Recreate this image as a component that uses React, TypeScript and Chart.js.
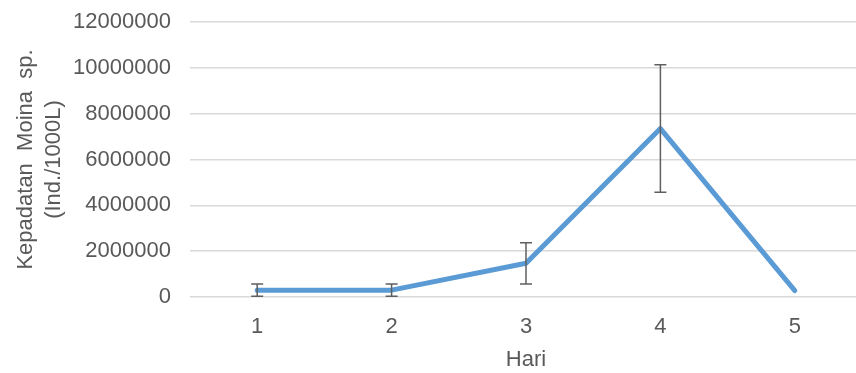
import React, { useEffect, useRef } from "react";
import { Chart, registerables } from "chart.js";

Chart.register(...registerables);

const categories = ["1", "2", "3", "4", "5"];
const densityValues = [300000, 300000, 1470000, 7350000, 280000];
const densityErrors = [270000, 270000, 900000, 2780000, 0];
const yTicks = [0, 2000000, 4000000, 6000000, 8000000, 10000000, 12000000];

const FONT = "'Liberation Sans', Arial, sans-serif";
const TEXT = "#595959";

const errorBarPlugin = {
  id: "errorBars",
  afterDatasetsDraw(chart: any) {
    const { ctx } = chart;
    const x = chart.scales.x;
    const y = chart.scales.y;
    ctx.save();
    ctx.strokeStyle = "#5f5f5f";
    ctx.lineWidth = 1.5;
    densityValues.forEach((v, i) => {
      const e = densityErrors[i];
      if (!e) return;
      const px = x.getPixelForValue(i);
      const top = y.getPixelForValue(v + e);
      const bot = y.getPixelForValue(v - e);
      const cap = 6;
      ctx.beginPath();
      ctx.moveTo(px, top);
      ctx.lineTo(px, bot);
      ctx.moveTo(px - cap, top);
      ctx.lineTo(px + cap, top);
      ctx.moveTo(px - cap, bot);
      ctx.lineTo(px + cap, bot);
      ctx.stroke();
    });
    ctx.restore();
  },
};

export default function App() {
  const ref = useRef<HTMLCanvasElement | null>(null);
  useEffect(() => {
    document.body.style.margin = "0";
    const chart = new Chart(ref.current as HTMLCanvasElement, {
      type: "line",
      data: {
        labels: categories,
        datasets: [
          {
            data: densityValues,
            borderColor: "#5b9bd5",
            borderWidth: 5,
            pointRadius: 0,
            tension: 0,
            borderCapStyle: "round",
            borderJoinStyle: "round",
          },
        ],
      },
      options: {
        animation: false,
        responsive: false,
        layout: { autoPadding: false, padding: { top: 22, right: 0, left: 0, bottom: 0 } },
        plugins: { legend: { display: false }, tooltip: { enabled: false } },
        scales: {
          x: {
            offset: true,
            grid: { display: false },
            border: { display: false },
            ticks: { color: TEXT, font: { family: FONT, size: 22 }, padding: 9 },
            title: {
              display: true,
              text: "Hari",
              color: TEXT,
              font: { family: FONT, size: 22 },
              padding: { top: 2, bottom: 0 },
            },
            afterFit: (s: any) => {
              s.height = 76;
              s.paddingLeft = 0;
              s.paddingRight = 0;
            },
          },
          y: {
            min: 0,
            max: 12000000,
            afterBuildTicks: (s: any) => {
              s.ticks = yTicks.map((v) => ({ value: v }));
            },
            grid: { color: "#d9d9d9", lineWidth: 1.5, drawTicks: false },
            border: { display: false },
            ticks: {
              color: TEXT,
              font: { family: FONT, size: 22 },
              padding: 19,
              callback: (v: any) => String(v),
            },
            title: {
              display: true,
              text: ["Kepadatan  Moina  sp.", "(Ind./1000L)"],
              color: TEXT,
              font: { family: FONT, size: 22, lineHeight: 1.27 },
              padding: { top: 12, bottom: 0 },
            },
            afterFit: (s: any) => {
              s.width = 190;
              s.paddingTop = 0;
              s.paddingBottom = 0;
            },
          },
        },
      },
      plugins: [errorBarPlugin],
    } as any);
    return () => chart.destroy();
  }, []);
  return (
    <div style={{ width: 856, height: 373, overflow: "hidden" }}>
      <canvas ref={ref} width={862} height={373} style={{ display: "block" }} />
    </div>
  );
}
